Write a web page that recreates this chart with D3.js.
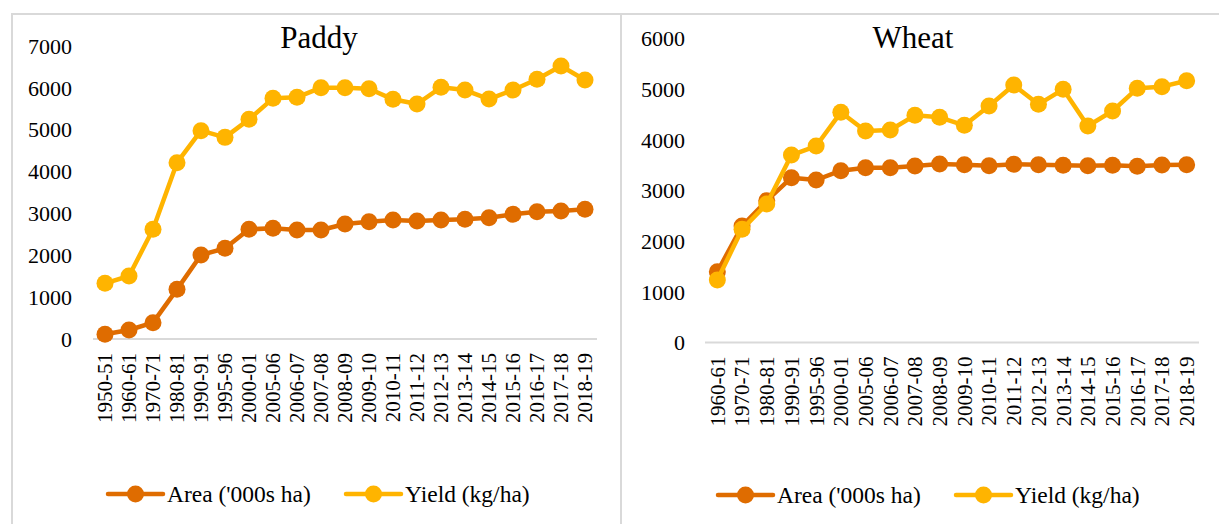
<!DOCTYPE html>
<meta charset="utf-8">
<style>
  body { margin: 0; padding: 0; background: white; }
  svg { display: block; background: white; }
</style>
<script src="https://d3js.org/d3.v7.min.js"></script>
<svg id="vis" width="1219" height="524"></svg>
<script>

// Paddy
const paddyYears = ["1950-51","1960-61","1970-71","1980-81","1990-91","1995-96","2000-01","2005-06","2006-07","2007-08","2008-09","2009-10","2010-11","2011-12","2012-13","2013-14","2014-15","2015-16","2016-17","2017-18","2018-19"];
const paddyArea  = [112,215,390,1187,2007,2166,2620,2644,2604,2604,2747,2803,2843,2819,2843,2859,2898,2978,3042,3058,3098];
const paddyYield = [1330,1505,2620,4212,4977,4817,5248,5750,5773,6005,6005,5980,5726,5614,6013,5948,5733,5948,6204,6522,6187];
const paddyTicks = [0,1000,2000,3000,4000,5000,6000,7000];

// Wheat
const wheatYears = ["1960-61","1970-71","1980-81","1990-91","1995-96","2000-01","2005-06","2006-07","2007-08","2008-09","2009-10","2010-11","2011-12","2012-13","2013-14","2014-15","2015-16","2016-17","2017-18","2018-19"];
const wheatArea  = [1397,2299,2799,3253,3207,3391,3450,3450,3483,3523,3509,3490,3517,3509,3497,3490,3497,3477,3503,3509];
const wheatYield = [1233,2234,2733,3700,3878,4543,4174,4194,4484,4444,4287,4667,5082,4701,4997,4273,4569,5017,5049,5167];
const wheatTicks = [0,1000,2000,3000,4000,5000,6000];

const seriesNames = ["Area ('000s ha)", "Yield (kg/ha)"];
const colors = ["#df6c00", "#ffb400"];
const serif = "Liberation Serif";

var svg = d3.select("#vis").attr("font-family", serif);

// panel frames
svg.append("rect").attr("x", 12).attr("y", 14).attr("width", 609).attr("height", 600)
  .attr("fill", "none").attr("stroke", "#d9d9d9").attr("stroke-width", 2);
svg.append("rect").attr("x", 621).attr("y", 14).attr("width", 640).attr("height", 600)
  .attr("fill", "none").attr("stroke", "#d9d9d9").attr("stroke-width", 2);

function drawChart(cfg) {
  var g = svg.append("g").attr("font-family", serif);

  var x = d3.scaleBand().domain(cfg.cats).range([cfg.x0, cfg.x1]);
  var y = d3.scaleLinear().domain([0, d3.max(cfg.ticks)]).range([cfg.y0, cfg.yTop]);

  // title
  g.append("text")
    .attr("x", cfg.titleX).attr("y", 48)
    .attr("text-anchor", "middle")
    .attr("font-size", 31)
    .text(cfg.title);

  // y labels (no gridlines)
  g.selectAll(".ytick").data(cfg.ticks).enter().append("text")
    .attr("x", cfg.yLabelX)
    .attr("y", d => y(d))
    .attr("dy", "0.35em")
    .attr("text-anchor", "end")
    .attr("font-size", 22)
    .text(d => d);

  // x axis line
  g.append("line")
    .attr("x1", cfg.x0).attr("x2", cfg.x1)
    .attr("y1", y(0)).attr("y2", y(0))
    .attr("stroke", "#d9d9d9").attr("stroke-width", 2);

  // x labels, rotated
  g.selectAll(".xtick").data(cfg.cats).enter().append("text")
    .attr("transform", d => "translate(" + (x(d) + x.bandwidth() / 2) + "," + (y(0) + 14) + ") rotate(-90)")
    .attr("dy", "0.35em")
    .attr("text-anchor", "end")
    .attr("font-size", 21)
    .text(d => d);

  var line = d3.line()
    .x((d, i) => x(cfg.cats[i]) + x.bandwidth() / 2)
    .y(d => y(d));

  [cfg.area, cfg.yield].forEach(function(vals, k) {
    g.append("path")
      .attr("d", line(vals))
      .attr("fill", "none")
      .attr("stroke", colors[k])
      .attr("stroke-width", 4.5)
      .attr("stroke-linejoin", "round");
    g.selectAll(null).data(vals).enter().append("circle")
      .attr("cx", (d, i) => x(cfg.cats[i]) + x.bandwidth() / 2)
      .attr("cy", d => y(d))
      .attr("r", 8.5)
      .attr("fill", colors[k]);
  });

  // legend
  cfg.legendX.forEach(function(lx, k) {
    var lg = g.append("g").attr("transform", "translate(" + lx + "," + cfg.legendY + ")");
    lg.append("line").attr("x1", 0).attr("x2", 55).attr("y1", 0).attr("y2", 0)
      .attr("stroke", colors[k]).attr("stroke-width", 4.5).attr("stroke-linecap", "round");
    lg.append("circle").attr("cx", 27.5).attr("cy", 0).attr("r", 8.5).attr("fill", colors[k]);
    lg.append("text").attr("x", 59).attr("y", 0).attr("dy", "0.35em")
      .attr("font-size", 23.5).text(seriesNames[k]);
  });
}

drawChart({
  title: "Paddy", titleX: 319,
  cats: paddyYears, area: paddyArea, yield: paddyYield, ticks: paddyTicks,
  x0: 93, x1: 597, y0: 339, yTop: 46, yLabelX: 72,
  legendX: [108, 346], legendY: 494
});

drawChart({
  title: "Wheat", titleX: 913,
  cats: wheatYears, area: wheatArea, yield: wheatYield, ticks: wheatTicks,
  x0: 705, x1: 1199, y0: 342.5, yTop: 38.5, yLabelX: 685,
  legendX: [718, 956], legendY: 495
});

</script>
